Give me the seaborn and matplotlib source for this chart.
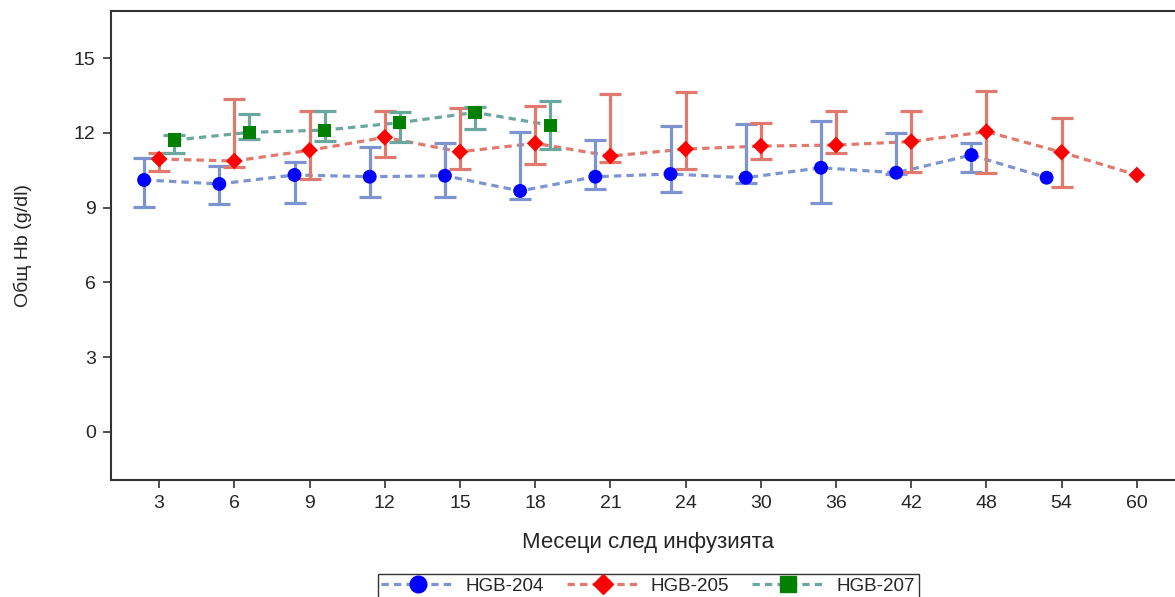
import numpy as np
import pandas as pd
import matplotlib
matplotlib.use("Agg")
import matplotlib.pyplot as plt
import seaborn as sns
from matplotlib.lines import Line2D

# months after infusion (categorical axis)
months = ['3', '6', '9', '12', '15', '18', '21', '24', '30', '36', '42', '48', '54', '60']

# HGB-204
hgb204_mean = [10.11, 9.95, 10.31, 10.24, 10.28, 9.67, 10.24, 10.35, 10.20, 10.60, 10.40, 11.11, 10.20, np.nan]
hgb204_low = [9.04, 9.13, 9.17, 9.44, 9.44, 9.33, 9.75, 9.64, 10.00, 9.17, 10.35, 10.44, np.nan, np.nan]
hgb204_high = [10.98, 10.68, 10.84, 11.44, 11.60, 12.02, 11.71, 12.29, 12.34, 12.47, 11.98, 11.58, np.nan, np.nan]

# HGB-205
hgb205_mean = [10.95, 10.87, 11.30, 11.82, 11.24, 11.58, 11.07, 11.35, 11.47, 11.51, 11.65, 12.05, 11.22, 10.31]
hgb205_low = [10.48, 10.62, 10.15, 11.04, 10.54, 10.75, 10.84, 10.54, 10.94, 11.20, 10.41, 10.38, 9.84, np.nan]
hgb205_high = [11.20, 13.36, 12.88, 12.88, 12.98, 13.09, 13.55, 13.63, 12.38, 12.88, 12.88, 13.68, 12.58, np.nan]

# HGB-207
hgb207_mean = [11.71, 12.02, 12.11, 12.41, 12.82, 12.31] + [np.nan] * 8
hgb207_low = [11.20, 11.75, 11.67, 11.62, 12.14, 11.34] + [np.nan] * 8
hgb207_high = [11.90, 12.74, 12.88, 12.82, 13.05, 13.28] + [np.nan] * 8

series = {
    'HGB-204': (hgb204_mean, hgb204_low, hgb204_high),
    'HGB-205': (hgb205_mean, hgb205_low, hgb205_high),
    'HGB-207': (hgb207_mean, hgb207_low, hgb207_high),
}
offsets = {'HGB-204': -0.2, 'HGB-205': 0.0, 'HGB-207': 0.2}
line_col = {'HGB-204': '#7D94D0', 'HGB-205': '#E07A6E', 'HGB-207': '#6AA79F'}
mark_col = {'HGB-204': '#0000FF', 'HGB-205': '#FF0000', 'HGB-207': '#008000'}
markers = {'HGB-204': 'o', 'HGB-205': 'D', 'HGB-207': 's'}
msizes = {'HGB-204': 10, 'HGB-205': 8.5, 'HGB-207': 9.5}

rows = []
for name, (m, lo, hi) in series.items():
    for i, mo in enumerate(months):
        rows.append({'group': name, 'pos': i + offsets[name], 'mean': m[i], 'low': lo[i], 'high': hi[i]})
df = pd.DataFrame(rows)

sns.set_style('white')
plt.rcParams['font.family'] = ['Liberation Sans', 'DejaVu Sans']

fig = plt.figure(figsize=(11.75, 5.97), dpi=100)
ax = fig.add_axes([111 / 1175, 1 - 480 / 597, (1185 - 111) / 1175, (480 - 11) / 597])

dash = (2.3, 1.6)
for name in series:
    d = df[df['group'] == name]
    dv = d.dropna(subset=['mean'])
    sns.lineplot(data=dv, x='pos', y='mean', ax=ax, color=line_col[name], lw=2.3,
                 dashes=False, legend=False, zorder=2).lines[-1].set_dashes(dash)
    de = d.dropna(subset=['low'])
    ax.errorbar(de['pos'], de['mean'], yerr=[de['mean'] - de['low'], de['high'] - de['mean']],
                fmt='none', ecolor=line_col[name], elinewidth=2.3, capsize=8, capthick=2.3, zorder=3)
    sns.scatterplot(data=dv, x='pos', y='mean', ax=ax, marker=markers[name], color=mark_col[name],
                    s=msizes[name] ** 2, edgecolor='none', linewidth=0, zorder=4, legend=False)

ax.set_xlim(-0.64, 13.64)
ax.set_ylim(-1.93, 16.89)
ax.set_xticks(range(len(months)))
ax.set_xticklabels(months)
ax.set_yticks([0, 3, 6, 9, 12, 15])
ax.tick_params(axis='both', labelsize=14, length=6, width=1.2, color='#333333', direction='out',
               bottom=True, left=True, pad=5)
for s in ax.spines.values():
    s.set_color('#333333')
    s.set_linewidth(1.5)
ax.set_xlabel('Месеци след инфузията', fontsize=16, labelpad=14)
ax.set_ylabel('Общ Hb (g/dl)', fontsize=14, labelpad=30)

handles = [Line2D([0], [0], color=line_col[n], lw=2.3, dashes=dash, marker=markers[n],
                  markerfacecolor=mark_col[n], markeredgecolor=mark_col[n], markersize=msizes[n] + 2)
           for n in series]
leg = ax.legend(handles, list(series.keys()), loc='upper center', bbox_to_anchor=(0.5, -0.2), ncol=3,
                fontsize=13.5, frameon=True, fancybox=False, edgecolor='black', handlelength=3.9,
                columnspacing=1.2, borderpad=0.2, borderaxespad=0, handletextpad=0.6, numpoints=1)
leg.get_frame().set_linewidth(1.0)

fig.savefig('out.png', dpi=100)
